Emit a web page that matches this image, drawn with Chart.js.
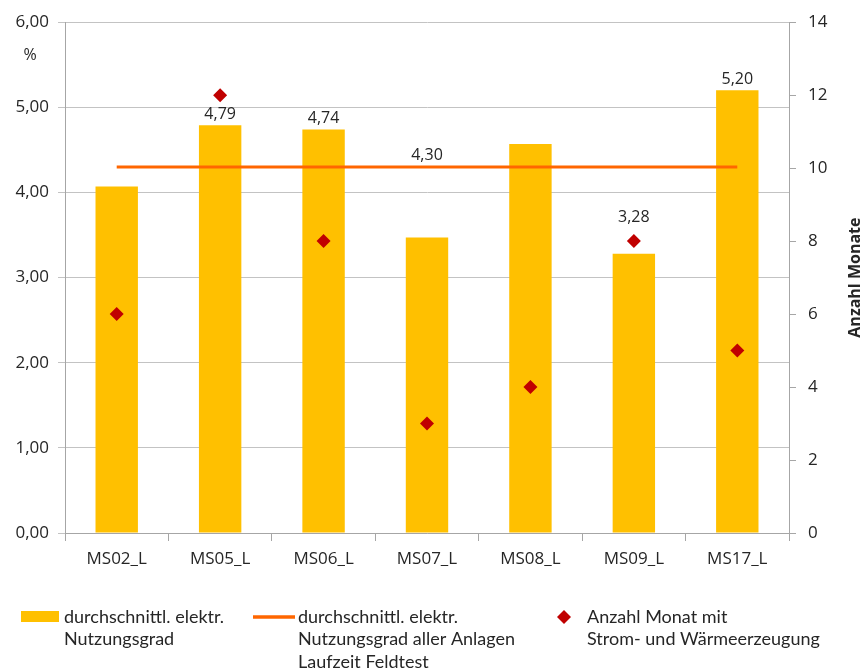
<!DOCTYPE html>
<html>
<head>
<meta charset="utf-8">
<script src="https://cdn.jsdelivr.net/npm/chart.js@4"></script>
<style>
  html, body { margin: 0; padding: 0; background: #fff; }
  #wrap { width: 864px; height: 672px; }
</style>
</head>
<body>
<div id="wrap"><canvas id="chart" width="864" height="672"></canvas></div>
<script>
// Anlagen
var anlagen = ["MS02_L", "MS05_L", "MS06_L", "MS07_L", "MS08_L", "MS09_L", "MS17_L"];
// durchschnittl. elektr. Nutzungsgrad in %
var nutzungsgrad = [4.07, 4.79, 4.74, 3.47, 4.57, 3.28, 5.20];
// Mittelwert aller Anlagen, Laufzeit Feldtest
var mittelwert = 4.30;
// Anzahl Monate mit Strom- und Waermeerzeugung
var monate = [6, 12, 8, 3, 4, 8, 5];
// Balken mit Wertbeschriftung
var beschriftet = ["MS05_L", "MS06_L", "MS09_L", "MS17_L"];

var legendTexte = [
  ["durchschnittl. elektr.", "Nutzungsgrad"],
  ["durchschnittl. elektr.", "Nutzungsgrad aller Anlagen", "Laufzeit Feldtest"],
  ["Anzahl Monat mit", "Strom- und Wärmeerzeugung"]
];

var GELB = "#ffc000";
var ORANGE = "#ff6600";
var ROT = "#c00000";
var TEXT = "#262626";
var TICKFONT = "'Open Sans', sans-serif";

function komma(v) {
  return v.toFixed(2).replace(".", ",");
}

function raute(ctx, x, y, r) {
  ctx.beginPath();
  ctx.moveTo(x, y - r);
  ctx.lineTo(x + r, y);
  ctx.lineTo(x, y + r);
  ctx.lineTo(x - r, y);
  ctx.closePath();
  ctx.fill();
}

// Werte ueber den Balken und auf der Mittelwert-Linie
var wertLabels = {
  id: "wertLabels",
  afterDatasetsDraw: function(chart) {
    var ctx = chart.ctx;
    var bars = chart.getDatasetMeta(0).data;
    var linie = chart.getDatasetMeta(1).data;
    var punkte = chart.getDatasetMeta(2).data;
    ctx.save();
    ctx.font = "16px " + TICKFONT;
    ctx.fillStyle = TEXT;
    ctx.textAlign = "center";
    ctx.textBaseline = "alphabetic";
    anlagen.forEach(function(name, i) {
      if (beschriftet.indexOf(name) < 0) return;
      var y = bars[i].y - 6;
      // Beschriftung ueber die Raute setzen, wenn sie den Balken verdeckt
      if (name === "MS09_L") y = punkte[i].y - 19;
      ctx.fillText(komma(nutzungsgrad[i]), bars[i].x, y);
    });
    var mitte = linie[3];
    ctx.fillText(komma(mittelwert), mitte.x, mitte.y - 7);
    ctx.restore();
  }
};

// Achsentitel und Legende
var extras = {
  id: "extras",
  afterDraw: function(chart) {
    var ctx = chart.ctx;
    var area = chart.chartArea;
    ctx.save();
    ctx.fillStyle = TEXT;
    ctx.font = "16px " + TICKFONT;
    ctx.textAlign = "center";
    ctx.textBaseline = "middle";
    ctx.fillText("%", 30, 55);

    ctx.translate(855, (area.top + area.bottom) / 2);
    ctx.rotate(-Math.PI / 2);
    ctx.font = "bold 16px " + TICKFONT;
    ctx.fillText("Anzahl Monate", 0, 0);
    ctx.restore();

    // Legende
    ctx.save();
    var y0 = 617, zeile = 22.5;
    ctx.fillStyle = GELB;
    ctx.fillRect(21, y0 - 6, 38, 11);
    ctx.strokeStyle = ORANGE;
    ctx.lineWidth = 3.5;
    ctx.beginPath();
    ctx.moveTo(253, y0);
    ctx.lineTo(295, y0);
    ctx.stroke();
    ctx.fillStyle = ROT;
    raute(ctx, 564, y0, 7);

    ctx.fillStyle = TEXT;
    ctx.font = "18px Lato, sans-serif";
    ctx.textAlign = "left";
    ctx.textBaseline = "middle";
    var xs = [64, 298, 587];
    legendTexte.forEach(function(zeilen, k) {
      zeilen.forEach(function(t, j) {
        ctx.fillText(t, xs[k], y0 + j * zeile);
      });
    });
    ctx.restore();
  }
};

new Chart(document.getElementById("chart").getContext("2d"), {
  type: "bar",
  data: {
    labels: anlagen,
    datasets: [{
      label: "durchschnittl. elektr. Nutzungsgrad",
      data: nutzungsgrad,
      backgroundColor: GELB,
      borderWidth: 0,
      categoryPercentage: 1,
      barPercentage: 0.41,
      yAxisID: "y",
      order: 3
    }, {
      type: "line",
      label: "durchschnittl. elektr. Nutzungsgrad aller Anlagen Laufzeit Feldtest",
      data: anlagen.map(function() { return mittelwert; }),
      borderColor: ORANGE,
      borderWidth: 3,
      pointRadius: 0,
      fill: false,
      yAxisID: "y",
      order: 2
    }, {
      type: "line",
      label: "Anzahl Monat mit Strom- und Wärmeerzeugung",
      data: monate,
      showLine: false,
      pointStyle: "rectRot",
      pointRadius: 7,
      pointBackgroundColor: ROT,
      pointBorderColor: ROT,
      pointBorderWidth: 0,
      yAxisID: "y1",
      order: 1
    }]
  },
  options: {
    responsive: false,
    animation: false,
    layout: { padding: { top: 14, left: 0, right: 0, bottom: 89 } },
    plugins: {
      legend: { display: false },
      tooltip: { enabled: false }
    },
    scales: {
      x: {
        grid: { offset: true, drawOnChartArea: false, tickLength: 8, color: "#a6a6a6" },
        border: { color: "#a6a6a6" },
        ticks: { font: { family: TICKFONT, size: 17 }, color: TEXT, padding: 8, maxRotation: 0 },
        afterFit: function(s) { s.height = 50; }
      },
      y: {
        min: 0, max: 6,
        ticks: {
          stepSize: 1,
          font: { family: TICKFONT, size: 17 },
          color: TEXT,
          padding: 9,
          callback: function(v) { return komma(v); }
        },
        grid: { color: "#c3c3c3", tickLength: 7 },
        border: { color: "#a6a6a6" },
        afterFit: function(s) { s.width = 65; }
      },
      y1: {
        position: "right",
        min: 0, max: 14,
        ticks: {
          stepSize: 2,
          font: { family: TICKFONT, size: 17 },
          color: TEXT,
          padding: 12
        },
        grid: { drawOnChartArea: false, tickLength: 7, color: "#a6a6a6" },
        border: { color: "#a6a6a6" },
        afterFit: function(s) { s.width = 75; }
      }
    }
  },
  plugins: [wertLabels, extras]
});
</script>
</body>
</html>
